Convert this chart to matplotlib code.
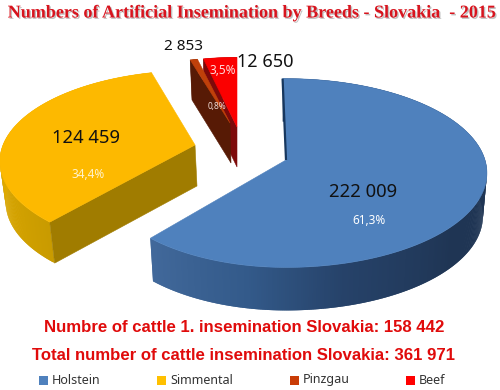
import numpy as np
import matplotlib
matplotlib.use('Agg')
import matplotlib.pyplot as plt
import matplotlib.patheffects as pe
from matplotlib.colors import to_rgb
from matplotlib.patches import Polygon, Rectangle

breeds = ['Holstein', 'Simmental', 'Pinzgau', 'Beef']
inseminations = [222009, 124459, 2853, 12650]
count_labels = ['222 009', '124 459', '2 853', '12 650']
percent_labels = ['61,3%', '34,4%', '0,8%', '3,5%']

title = 'Numbers of Artificial Insemination by Breeds - Slovakia  - 2015'
line_1 = 'Numbre of cattle 1. insemination Slovakia: 158 442'
line_2 = 'Total number of cattle insemination Slovakia: 361 971'

# layout of each exploded slice, pixels: (left radius, right radius, y radius)
apex = {'Holstein': (286, 160), 'Simmental': (195, 145), 'Pinzgau': (230, 123), 'Beef': (237, 127)}
radius = {'Holstein': (186, 199, 92.6), 'Simmental': (192, 192, 88), 'Pinzgau': (167, 167, 73), 'Beef': (172, 172, 78)}
persp = {'Holstein': 0.138, 'Simmental': 0.18, 'Pinzgau': 0.12, 'Beef': 0.12}
turn = {'Holstein': -1.2, 'Simmental': 0, 'Pinzgau': 0, 'Beef': 0}
depth = {'Holstein': (0, 43), 'Simmental': (2, 41), 'Pinzgau': (1, 40), 'Beef': (0, 40)}
top_color = {'Holstein': '#4f81bd', 'Simmental': '#fdb900', 'Pinzgau': '#c0400a', 'Beef': '#fb0000'}
legend_color = {'Holstein': '#4f81bd', 'Simmental': '#ffc000', 'Pinzgau': '#c93c06', 'Beef': '#ff0000'}
cut_color = {'Holstein': '#17375e', 'Simmental': '#a07c00', 'Pinzgau': '#571a05', 'Beef': '#7d0a0a'}
wall_stops = {
    'Holstein': ([60, 130, 165, 190, 221], ['#1f3554', '#1f3554', '#264269', '#335a8a', '#42699b']),
    'Simmental': ([221, 250, 290], ['#c99b00', '#d9a600', '#eeb000']),
    'Pinzgau': ([344, 348], ['#571a05', '#571a05']),
    'Beef': ([347, 360], ['#7d0a0a', '#7d0a0a']),
}
legend_x = {'Holstein': 39, 'Simmental': 157, 'Pinzgau': 290, 'Beef': 406}
wall_scale = 0.98


def project(name, theta):
    # clockwise from 12 o'clock, front of the pie is bigger (perspective)
    t = np.radians(theta)
    X = np.sin(t)
    Y = -np.cos(t)
    s = 1 / (1 - persp[name] * Y)
    rx = np.where(X < 0, radius[name][0], radius[name][1])
    return apex[name][0] + X * rx * s, apex[name][1] + Y * radius[name][2] * s


def lower(name, x, y):
    # same point on the bottom of the slice
    return apex[name][0] + (x - apex[name][0]) * wall_scale + depth[name][0], y + depth[name][1]


def wall_color(name, theta):
    stops, colors = wall_stops[name]
    rgb = np.array([to_rgb(c) for c in colors])
    return [np.interp(theta, stops, rgb[:, i]) for i in range(3)]


def draw_slice(ax, name, start, end):
    ax0, ay0 = apex[name]
    start = start + turn[name]
    thetas = np.linspace(start, end, max(int(end - start) * 2, 4))
    xs, ys = project(name, thetas)
    xl, yl = lower(name, xs, ys)

    # outer wall, strips overlap the next one so no seams show
    n = len(thetas)
    for i in range(n - 1):
        j = min(i + 2, n - 1)
        strip = [(xs[i], ys[i]), (xs[i + 1], ys[i + 1]), (xs[j], ys[j]),
                 (xl[j], yl[j]), (xl[i + 1], yl[i + 1]), (xl[i], yl[i])]
        ax.add_patch(Polygon(strip, closed=True, fc=wall_color(name, thetas[i]), ec='none'))

    # cut face seen on the left of the slice
    if name != 'Holstein':
        x0, y0 = project(name, start)
        x1, y1 = lower(name, x0, y0)
        x2, y2 = lower(name, ax0, ay0)
        face = [(x0, y0), (ax0, ay0), (x2, y2), (x1, y1)]
        ax.add_patch(Polygon(face, closed=True, fc=cut_color[name], ec=cut_color[name], lw=0.4))

    top = [(ax0, ay0)] + list(zip(xs, ys))
    ax.add_patch(Polygon(top, closed=True, fc=top_color[name], ec=top_color[name], lw=0.4))

    if name == 'Holstein':
        x0, y0 = project(name, start)
        ax.plot([x0, ax0], [y0, ay0], color=cut_color[name], lw=1.6, solid_capstyle='butt')


fig = plt.figure(figsize=(5, 3.9), dpi=100)
ax = fig.add_axes([0, 0, 1, 1])
ax.set_xlim(0, 500)
ax.set_ylim(390, 0)
ax.axis('off')

angles = np.cumsum([0] + inseminations) / sum(inseminations) * 360
slices = {b: (angles[i], angles[i + 1]) for i, b in enumerate(breeds)}
for name in ['Holstein', 'Simmental', 'Beef', 'Pinzgau']:
    draw_slice(ax, name, slices[name][0], slices[name][1])

label_font = ['Noto Sans', 'DejaVu Sans']
ax.text(363, 192, count_labels[0], fontsize=13.3, family=label_font, color='#111111', ha='center', va='center')
ax.text(86, 138, count_labels[1], fontsize=13.3, family=label_font, color='#111111', ha='center', va='center')
ax.text(184, 46, count_labels[2], fontsize=11, family=label_font, color='#111111', ha='center', va='center')
ax.text(265, 62, count_labels[3], fontsize=13, family=label_font, color='#111111', ha='center', va='center')
ax.text(369, 220, percent_labels[0], fontsize=8.5, family=label_font, color='white', ha='center', va='center')
ax.text(88, 175, percent_labels[1], fontsize=8.5, family=label_font, color='#fff2cc', ha='center', va='center')
ax.text(217, 106, percent_labels[2], fontsize=6, family=label_font, color='#f2dcd5', ha='center', va='center')
ax.text(223, 70, percent_labels[3], fontsize=8.5, family=label_font, color='#ffd9d9', ha='center', va='center')

ax.text(251, 13, title, fontsize=13, family='Liberation Serif', weight='bold', color='#d8141e',
        ha='center', va='center',
        path_effects=[pe.withSimplePatchShadow(offset=(1, -1), shadow_rgbFace='#999999', alpha=0.6)])
ax.text(244.5, 327, line_1, fontsize=12.1, family='Liberation Sans', weight='bold', color='#e00b0b',
        ha='center', va='center')
ax.text(243, 355, line_2, fontsize=12.1, family='Liberation Sans', weight='bold', color='#e00b0b',
        ha='center', va='center')

for name in breeds:
    ax.add_patch(Rectangle((legend_x[name], 376), 8.5, 8.5, fc=legend_color[name], ec='none'))
    ax.text(legend_x[name] + 13, 380, name, fontsize=9, family=label_font, color='#333333',
            ha='left', va='center')

fig.savefig('out.png', dpi=100)
